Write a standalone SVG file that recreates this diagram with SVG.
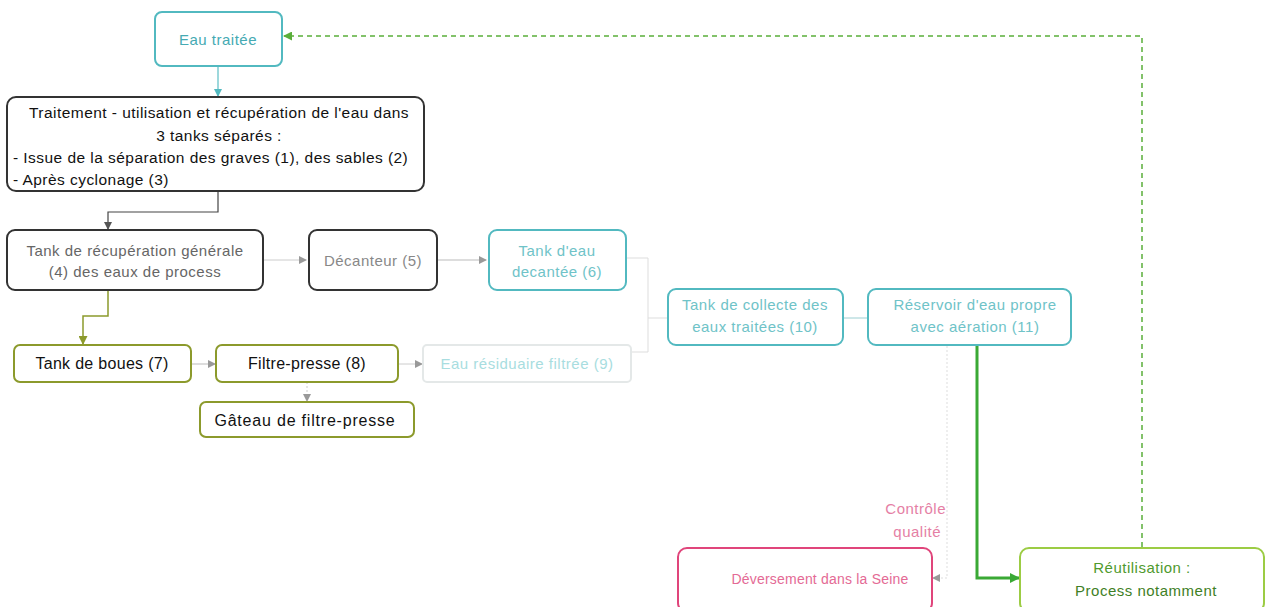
<svg xmlns="http://www.w3.org/2000/svg" width="1266" height="607" viewBox="0 0 1266 607">
<style>
text{font-family:"Liberation Sans","DejaVu Sans",sans-serif;font-size:15px;letter-spacing:0.5px;text-anchor:middle}
.box{fill:#fff;stroke-width:2}
.teal{stroke:#52b9c0}
.dark{stroke:#333}
.olive{stroke:#8c9a2c}
.pink{stroke:#e0457b}
.lgreen{stroke:#9ccc44}
.faint{stroke:#e4e8e8}
.tt{fill:#6fc3c8}
.gt{fill:#666}
.bt{fill:#111}
.ol{font-size:16px;letter-spacing:0.3px}
.tr{font-size:15.5px;letter-spacing:0.45px}
</style>
<defs>
<marker id="ag" markerWidth="8" markerHeight="8" refX="7" refY="4" orient="auto" markerUnits="userSpaceOnUse"><path d="M0,0 L8,4 L0,8 z" fill="#999"/></marker>
<marker id="at" markerWidth="8" markerHeight="8" refX="7" refY="4" orient="auto" markerUnits="userSpaceOnUse"><path d="M0,0 L8,4 L0,8 z" fill="#52b9c0"/></marker>
<marker id="ad" markerWidth="8" markerHeight="8" refX="7" refY="4" orient="auto" markerUnits="userSpaceOnUse"><path d="M0,0 L8,4 L0,8 z" fill="#555"/></marker>
<marker id="ao" markerWidth="9" markerHeight="9" refX="8" refY="4.5" orient="auto" markerUnits="userSpaceOnUse"><path d="M0,0 L9,4.5 L0,9 z" fill="#8c9a2c"/></marker>
<marker id="agr" markerWidth="10" markerHeight="10" refX="9" refY="5" orient="auto" markerUnits="userSpaceOnUse"><path d="M0,0 L10,5 L0,10 z" fill="#3aa935"/></marker>
<marker id="agd" markerWidth="9" markerHeight="9" refX="8" refY="4.5" orient="auto" markerUnits="userSpaceOnUse"><path d="M0,0 L9,4.5 L0,9 z" fill="#5aae3a"/></marker>
</defs>
<rect width="1266" height="607" fill="#fff"/>
<g id="connectors" fill="none">
<path d="M218,66 V96" stroke="#7ccbd0" stroke-width="1.5" marker-end="url(#at)"/>
<path d="M218,191 V212 H108 V229" stroke="#444" stroke-width="1.2" marker-end="url(#ad)"/>
<path d="M264,260 H306" stroke="#ccc" stroke-width="1" marker-end="url(#ag)"/>
<path d="M438,260 H486" stroke="#bbb" stroke-width="1" marker-end="url(#ag)"/>
<path d="M108,290 V316 H83 V344" stroke="#8c9a2c" stroke-width="1.5" marker-end="url(#ao)"/>
<path d="M191,364 H215" stroke="#bbb" stroke-width="1" marker-end="url(#ag)"/>
<path d="M398,364 H422" stroke="#ccc" stroke-width="1" marker-end="url(#ag)"/>
<path d="M307,382 V401" stroke="#ccc" stroke-width="1" stroke-dasharray="2,2" marker-end="url(#ag)"/>
<path d="M626,258 H648 V352 M631,352 H648 M648,318 H667" stroke="#ddd" stroke-width="1"/>
<path d="M843,318 H867" stroke="#9ccfd2" stroke-width="1"/>
<path d="M947,346 V578 H933" stroke="#ddd" stroke-width="1" stroke-dasharray="2,2" marker-end="url(#ag)"/>
<path d="M977,345 V578 H1019" stroke="#3aa935" stroke-width="3" marker-end="url(#agr)"/>
<path d="M1142,547 V36 H284" stroke="#5aae3a" stroke-width="1.5" stroke-dasharray="5,4" marker-end="url(#agd)"/>
</g>
<g id="eau-traitee"><rect class="box teal" x="155" y="12" width="127" height="54" rx="7"/><text x="218" y="45" fill="#45aab3">Eau traitée</text></g>
<g id="traitement"><rect class="box dark" x="7" y="97" width="417" height="94" rx="9"/>
<text x="219" y="118" class="bt tr">Traitement - utilisation et récupération de l'eau dans</text>
<text x="219" y="141" class="bt tr">3 tanks séparés :</text>
<text x="13" y="163" class="bt tr" style="text-anchor:start">- Issue de la séparation des graves (1), des sables (2)</text>
<text x="13" y="185" class="bt tr" style="text-anchor:start">- Après cyclonage (3)</text></g>
<g id="tank4"><rect class="box dark" x="7" y="230" width="256" height="60" rx="8"/>
<text x="135" y="256" class="gt">Tank de récupération générale</text>
<text x="135" y="277" class="gt">(4) des eaux de process</text></g>
<g id="decanteur"><rect class="box dark" x="309" y="230" width="128" height="60" rx="8"/><text x="373" y="266" fill="#888">Décanteur (5)</text></g>
<g id="tank6"><rect class="box teal" x="489" y="230" width="137" height="60" rx="8"/>
<text x="557" y="256" class="tt">Tank d'eau</text><text x="557" y="277" class="tt">decantée (6)</text></g>
<g id="tank10"><rect class="box teal" x="668" y="289" width="175" height="56" rx="8"/>
<text x="755" y="310" class="tt">Tank de collecte des</text><text x="755" y="332" class="tt">eaux traitées (10)</text></g>
<g id="reservoir11"><rect class="box teal" x="868" y="289" width="203" height="56" rx="8"/>
<text x="975" y="310" class="tt">Réservoir d'eau propre</text><text x="975" y="332" class="tt">avec aération (11)</text></g>
<g id="tank7"><rect class="box olive" x="14" y="345" width="177" height="37" rx="6"/><text x="102" y="369" class="bt ol">Tank de boues (7)</text></g>
<g id="filtre8"><rect class="box olive" x="216" y="345" width="182" height="37" rx="6"/><text x="307" y="369" class="bt ol">Filtre-presse (8)</text></g>
<g id="eau9"><rect class="box faint" x="423" y="345" width="208" height="37" rx="4"/><text x="527" y="369" fill="#a8dde0">Eau résiduaire filtrée (9)</text></g>
<g id="gateau"><rect class="box olive" x="200" y="402" width="214" height="35" rx="6"/><text x="305" y="426" class="bt ol" style="letter-spacing:0.8px">Gâteau de filtre-presse</text></g>
<g id="controle"><text x="946" y="514" fill="#e57fa5" style="text-anchor:end">Contrôle</text><text x="941" y="537" fill="#e57fa5" style="text-anchor:end">qualité</text></g>
<g id="deversement"><rect class="box pink" x="678" y="548" width="254" height="64" rx="9"/><text x="820" y="584" fill="#e46a95" style="font-size:14px;letter-spacing:0.2px">Déversement dans la Seine</text></g>
<g id="reutilisation"><rect class="box lgreen" x="1020" y="548" width="244" height="64" rx="9"/>
<text x="1142" y="573" fill="#4f9a2e">Réutilisation :</text><text x="1146" y="596" fill="#3f7f26">Process notamment</text></g>
</svg>
